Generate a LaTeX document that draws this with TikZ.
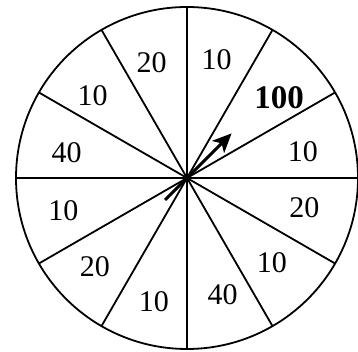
\documentclass[tikz,border=0pt]{standalone}
\usepackage{amsmath}
\usepackage{fontspec}
\setmainfont{Liberation Serif}
\usepackage{xcolor}
\usetikzlibrary{arrows.meta,calc}

\begin{document}
\begin{tikzpicture}[x=1pt,y=1pt,
    spoke/.style={line width=1.8pt},
    val/.style={font=\fontsize{30}{32}\selectfont},
    pointer/.style={line width=3pt,-{Stealth[length=19pt,width=17pt,inset=5pt]}}]
    \useasboundingbox (0,0) rectangle (358,352);
    \clip (0,0) rectangle (358,352);
    \coordinate (c) at (187,174);
    \draw[spoke] (c) circle (171);
    \foreach \a in {0,30,...,150} {
      \coordinate (p\a) at ($(c)+(\a:171)$); \coordinate (q\a) at
      ($(c)+(\a+180:171)$); \draw[spoke] (p\a) -- (q\a); }
    \foreach \a/\r/\v/\n in {76/122/10/s1,41/122/{\fontsize{33}{35}\selectfont\textbf{100}}/s2,
      13/119/10/s3,-14/121/20/s4,-45/120/10/s5,-73/122/40/s6,
      -105/128/10/s7,-136/128/20/s8,-165/128/10/s9,168/123/40/s10,
      139/125/10/s11,107/121/20/s12} {
      \node[val] (\n) at ($(c)+(\a:\r)$) {\v}; }
    \coordinate (tail) at ($(c)+(225:31)$); \coordinate (tip) at
    ($(c)+(45:63)$); \draw[pointer] (tail) -- (tip);
    \fill (c) circle (3.5);
  \end{tikzpicture}
\end{document}
